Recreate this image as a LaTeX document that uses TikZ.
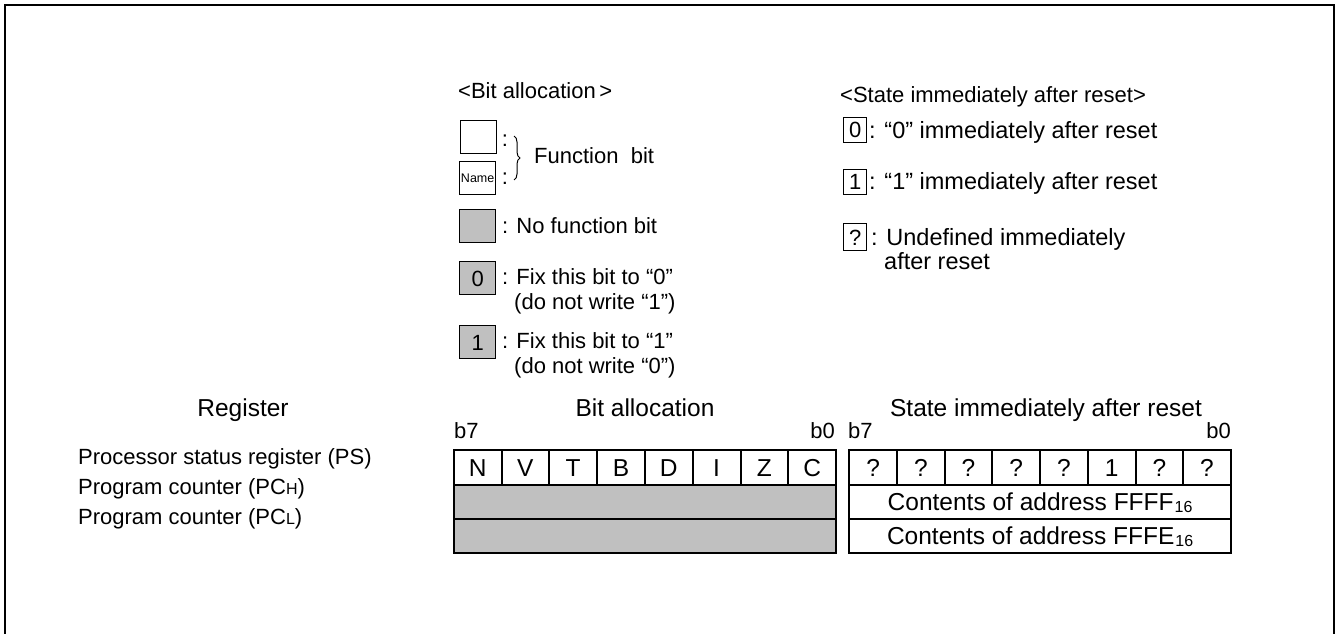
\documentclass[tikz,border=0pt]{standalone}
\usepackage{fontspec}
\setmainfont{Liberation Sans}
\usetikzlibrary{decorations.pathreplacing}
\definecolor{nofn}{HTML}{C0C0C0}
\newcommand{\bodyfs}{\fontsize{22}{26}\selectfont}
\newcommand{\rlegfs}{\fontsize{23.5}{28}\selectfont}
\newcommand{\cellfs}{\fontsize{24.5}{29}\selectfont}
\newcommand{\titlefs}{\fontsize{24.5}{29}\selectfont}
\newcommand{\subfs}{\fontsize{16}{19}\selectfont}
\newcommand{\tinyfs}{\fontsize{12.5}{14}\selectfont}
\begin{document}
\begin{tikzpicture}[x=1pt,y=-1pt,
  txt/.style={font=\bodyfs, inner sep=0pt, text height=15.8pt, text depth=0pt},
  rtxt/.style={font=\rlegfs, inner sep=0pt, text height=16.8pt, text depth=0pt, anchor=west},
  ttl/.style={font=\titlefs, inner sep=0pt, text height=17.5pt, text depth=0pt},
  cell/.style={font=\cellfs, inner sep=0pt, text height=17.5pt, text depth=0pt, draw, line width=2pt, minimum width=47.8pt, minimum height=34.6pt, anchor=north west},
  regrow/.style={cell, minimum width=382.3pt, minimum height=34pt},
  lbox/.style={txt, draw, line width=1.3pt, minimum width=36pt, minimum height=33pt, anchor=north west},
  sbox/.style={txt, draw, line width=1.3pt, minimum width=23pt, minimum height=24.5pt, anchor=north west},
  lab/.style={txt, anchor=west},
  colon/.style={font=\bodyfs, inner sep=0pt, anchor=base}
]
\useasboundingbox (0,0) rectangle (1339,634);
% frame
\draw[line width=2.5pt, line join=miter] (5,634) -- (5,5) -- (1334,5) -- (1334,634);

% ---------- legend: bit allocation ----------
\node[lab] (lbtitle) at (458,91) {<Bit allocation\,>};
\node[lbox] (fbox1) at (460,120) {};
\node[lbox, font=\tinyfs, text height=9pt] (fbox2) at (459,161) {Name};
\node[colon] (col1) at (505,146) {:};
\node[colon] (col2) at (505,184) {:};
\coordinate (brtop) at (514,136);
\coordinate (brbot) at (514,180);
\draw[line width=1pt, decorate, decoration={brace, amplitude=6pt}] (brtop) -- (brbot);
\node[lab] (fbtext) at (534,156) {Function\ \ bit};

\node[lbox, fill=nofn] (nfbox) at (459,209) {};
\node[lab] (nftext) at (502,226) {: No function bit};

\node[lbox, fill=nofn] (f0box) at (459,261) {0};
\node[lab] (f0text) at (502,277) {: Fix this bit to “0”};
\node[lab] (f0text2) at (514,302) {(do not write “1”)};

\node[lbox, fill=nofn] (f1box) at (459,325) {1};
\node[lab] (f1text) at (502,341) {: Fix this bit to “1”};
\node[lab] (f1text2) at (514,366) {(do not write “0”)};

% ---------- legend: state after reset ----------
\node[lab] (sttitle) at (840,95) {<State immediately after reset>};
\node[sbox] (s0box) at (843,117) {0};
\node[rtxt] (s0text) at (869,130) {: “0” immediately after reset};
\node[sbox] (s1box) at (843,169) {1};
\node[rtxt] (s1text) at (869,181) {: “1” immediately after reset};
\node[sbox, minimum height=27pt] (sqbox) at (843,223) {?};
\node[rtxt] (sqtext) at (871,237) {: Undefined immediately};
\node[rtxt] (sqtext2) at (884,261) {after reset};

% ---------- headers ----------
\node[ttl] (hreg) at (243,408) {Register};
\node[ttl] (hbit) at (645,408) {Bit allocation};
\node[ttl] (hst) at (1046,408) {State immediately after reset};
\node[txt, anchor=west] (lb7) at (454,431) {b7};
\node[txt, anchor=east] (lb0) at (835,431) {b0};
\node[txt, anchor=west] (rb7) at (848,431) {b7};
\node[txt, anchor=east] (rb0) at (1231,431) {b0};

% ---------- row labels ----------
\node[lab] (rps) at (78,457) {Processor status register (PS)};
\node[lab] (rpch) at (78,487) {Program counter (PC{\subfs H})};
\node[lab] (rpcl) at (78,517) {Program counter (PC{\subfs L})};

% ---------- bit allocation table ----------
\foreach \t [count=\i from 0] in {N,V,T,B,D,I,Z,C} {
  \node[cell] (ba\i) at (452.7+47.8*\i,449.3) {\t};
}
\node[regrow, fill=nofn] (bapch) at (452.7,484) {};
\node[regrow, fill=nofn] (bapcl) at (452.7,518) {};

% ---------- reset state table ----------
\foreach \t [count=\i from 0] in {?,?,?,?,?,1,?,?} {
  \node[cell, minimum width=47.7pt] (st\i) at (848.3+47.7*\i,449.3) {\t};
}
\node[regrow, minimum width=381.6pt] (stpch) at (848.3,484) {Contents of address FFFF\kern1pt\raisebox{-1.5pt}{\subfs 16}};
\node[regrow, minimum width=381.6pt] (stpcl) at (848.3,518) {Contents of address FFFE\kern1pt\raisebox{-1.5pt}{\subfs 16}};
\end{tikzpicture}
\end{document}
